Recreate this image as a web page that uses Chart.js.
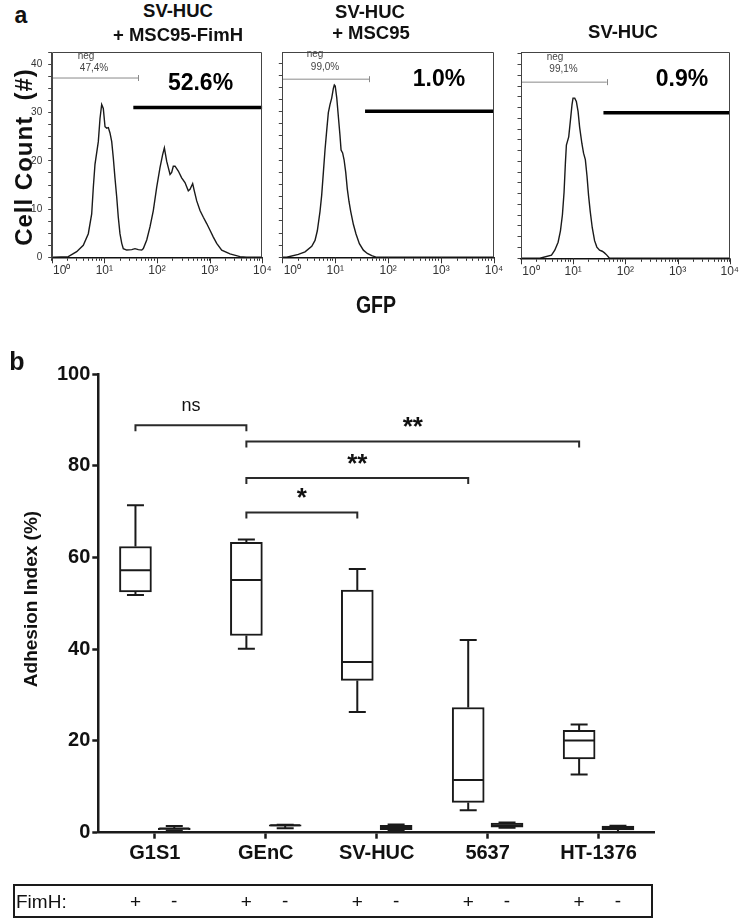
<!DOCTYPE html>
<html><head><meta charset="utf-8">
<script src="https://cdn.jsdelivr.net/npm/chart.js@4.4.1/dist/chart.umd.min.js"></script>
<style>
html,body{margin:0;padding:0;background:#fff;}
body{width:742px;height:921px;position:relative;overflow:hidden;font-family:"Liberation Sans",Arial,sans-serif;color:#111;}
canvas{position:absolute;}
.t{position:absolute;white-space:pre;transform:translate(-50%,-50%);line-height:1;}
.tl{position:absolute;white-space:pre;transform:translate(0,-50%);line-height:1;}
.v{position:absolute;white-space:pre;transform:translate(-50%,-50%) rotate(-90deg);line-height:1;}
</style></head><body>
<canvas id="h0"></canvas><canvas id="h1"></canvas><canvas id="h2"></canvas><canvas id="bx"></canvas>

<div class="t" style="left:21px;top:15px;font:bold 23px 'Liberation Sans'">a</div>
<div class="t" style="left:178px;top:11px;font:bold 18.5px 'Liberation Sans'">SV-HUC</div>
<div class="t" style="left:178px;top:35px;font:bold 18.5px 'Liberation Sans'">+ MSC95-FimH</div>
<div class="t" style="left:370px;top:12px;font:bold 18.5px 'Liberation Sans'">SV-HUC</div>
<div class="t" style="left:371px;top:33px;font:bold 18.5px 'Liberation Sans'">+ MSC95</div>
<div class="t" style="left:623px;top:32px;font:bold 18.5px 'Liberation Sans'">SV-HUC</div>
<div class="v" style="left:24px;top:157px;font:bold 24px 'Liberation Sans';letter-spacing:1px">Cell Count  (#)</div>
<div class="t" style="left:376px;top:305px;font:bold 23px 'Liberation Sans';transform:translate(-50%,-50%) scaleX(0.85)">GFP</div>

<div class="t" style="left:17px;top:361px;font:bold 25px 'Liberation Sans'">b</div>
<div class="v" style="left:31px;top:599px;font:bold 19px 'Liberation Sans'">Adhesion Index (%)</div>
<div id="fimhRow" style="position:absolute;left:13px;top:884px;width:640px;height:34px;border:2.5px solid #1a1a1a;box-sizing:border-box;"></div>
<div class="tl" style="left:16px;top:902px;font:19px 'Liberation Sans'">FimH:</div>

<script>
// ---------- Panel a: flow cytometry histograms (GFP, log scale) ----------
const gfpA   = [1, 1.07, 2.07, 2.98, 3.98, 4.96, 5.75, 6.17, 6.64, 7.68, 8.27, 8.9, 9.55, 10.3, 11.1, 11.9, 12.8, 13.8, 14.8, 15.9, 17.2, 18.4, 19.8, 21.4, 22.9, 26.6, 33.1, 38.2, 44.2, 51.3, 55, 63.8, 73.6, 85.1, 98.6, 114, 128, 138, 153, 164, 177, 190, 204, 220, 254, 294, 340, 393, 424, 476, 511, 568, 656, 759, 879, 1016, 1175, 1361, 1694, 2434, 3770, 5010, 10000];
const countA = [0, 0, 0.14, 1.16, 2.5, 4.9, 9.0, 14.5, 19.3, 24.0, 28.8, 31.7, 30.9, 27.1, 26.8, 26.9, 25.8, 24.0, 20.6, 16.5, 12.4, 8.3, 4.9, 2.9, 1.8, 1.5, 1.6, 1.8, 1.6, 1.5, 1.8, 3.6, 6.3, 9.7, 14.5, 18.6, 21.3, 22.7, 19.9, 18.6, 17.2, 17.6, 18.9, 18.9, 17.9, 16.5, 15.5, 13.8, 14.1, 15.3, 13.8, 11.7, 9.7, 8.3, 7.0, 5.6, 4.2, 2.9, 1.5, 0.7, 0.14, 0, 0];
const gfpB   = [1, 1.21, 2.01, 2.69, 3.6, 4.15, 4.59, 5.16, 5.55, 5.97, 6.41, 6.9, 7.41, 7.98, 8.58, 9.22, 9.62, 10.0, 10.7, 11.5, 12.3, 12.9, 13.8, 14.7, 15.8, 16.9, 18.2, 19.6, 22.0, 24.7, 28.6, 34.0, 40.4, 49.0, 61.0, 94.2, 10000];
const countB = [0, 0, 0.6, 1.13, 2.27, 3.47, 5.47, 9.47, 12.8, 17.5, 22.1, 26.1, 29.8, 31.5, 32.8, 34.8, 35.5, 35.3, 32.8, 28.8, 25.1, 22.1, 21.5, 20.1, 17.5, 14.1, 11.5, 9.47, 6.8, 4.8, 2.8, 1.47, 0.8, 0.33, 0, 0, 0];
const gfpC   = [1, 2.30, 3.84, 4.44, 5.14, 5.70, 6.22, 6.69, 7.09, 7.41, 8.21, 8.83, 9.5, 9.93, 10.7, 11.5, 12.4, 13.3, 14.7, 15.8, 17.1, 18.4, 19.7, 21.2, 23.2, 25.7, 28.4, 32.0, 36.0, 39.8, 44.1, 49.6, 103, 10000];
const countC = [0, 0, 0.74, 1.87, 3.74, 6.37, 10.1, 15.4, 22.1, 26.3, 28.2, 31.9, 35.7, 37.2, 37.2, 36.4, 34.1, 30.4, 26.6, 24.4, 22.9, 19.1, 14.6, 10.9, 7.1, 4.1, 2.6, 1.87, 1.64, 1.26, 0.74, 0, 0, 0];

const negGatePct   = ['47,4%', '99,0%', '99,1%'];
const posGatePct   = ['52.6%', '1.0%', '0.9%'];
const negGateUpper = [44, 44, 44];
const negGateLevel = [37.2, 36.7, 40.9];
const posGateLower = [35.5, 36.6, 38];
const posGateLevel = [31.1, 30.1, 33.8];
const countAxisMax = [42.6, 42.3, 47.9];
const gfpTickLabels = ['10\u2070', '10\u00B9', '10\u00B2', '10\u00B3', '10\u2074'];

// ---------- Panel b: adhesion index box plots ----------
const cellLines = ['G1S1', 'GEnC', 'SV-HUC', '5637', 'HT-1376'];
// [min, q1, median, q3, max]
const fimhPlus  = [[51.8, 52.5, 57.2, 62.4, 71.4], [40.1, 43.0, 55.1, 63.3, 63.9], [26.3, 33.2, 37.2, 52.9, 57.5], [4.9, 6.6, 11.5, 27.3, 42.0], [12.7, 16.1, 20.1, 22.3, 23.6]];
const fimhMinus = [[0.45, 0.65, 0.9, 1.0, 1.45], [0.95, 1.45, 1.6, 1.7, 1.75], [0.5, 0.65, 1.0, 1.6, 1.8], [1.1, 1.2, 1.6, 2.1, 2.25], [0.15, 0.6, 1.0, 1.45, 1.5]];
const bracketFrom  = [0, 1, 1, 1];
const bracketTo    = [1, 4, 3, 2];
const bracketLevel = [88.8, 85.3, 77.3, 69.8];
const bracketLabel = ['ns', '**', '**', '*'];
const fimhSigns = ['+', '-'];

// ---------- layout / style constants ----------
const FONT = 'Liberation Sans';
const histBoxes = [{l:0, t:40, w:280, h:245}, {l:252, t:40, w:256, h:245}, {l:492, t:40, w:250, h:245}];
const histAreas = [{l:51.7, t:49.3, r:262.3, b:257.3}, {l:282.3, t:45.7, r:494, b:257.3}, {l:521, t:45.7, r:731, b:258.3}];
const pctPos = [[200.5, 82], [439, 78], [682, 78]];
const negPos = [[86, 55, 94, 66.7], [315, 52.5, 325, 65.5], [555, 55.8, 563.5, 68]];
const FIRST_LABEL_SHIFT = '\u00A0\u00A0\u00A0\u00A0\u00A0\u00A0';

function addText(txt, x, y, font, color) {
  const d = document.createElement('div');
  d.className = 't';
  d.textContent = txt;
  d.style.left = x + 'px'; d.style.top = y + 'px';
  d.style.font = font; if (color) d.style.color = color;
  document.body.appendChild(d);
}

function isPow10(v) { const l = Math.log10(v); return Math.abs(l - Math.round(l)) < 1e-9; }

function histChart(k, xs, ys) {
  const box = histBoxes[k], area = histAreas[k];
  const cv = document.getElementById('h' + k);
  cv.width = box.w; cv.height = box.h;
  cv.style.left = box.l + 'px'; cv.style.top = box.t + 'px';
  const pts = xs.map((v, i) => ({x: v, y: ys[i]}));
  const frame = {
    id: 'frame' + k,
    afterDatasetsDraw(c) {
      const a = c.chartArea, ctx = c.ctx;
      ctx.save();
      ctx.strokeStyle = '#444'; ctx.lineWidth = 1;
      ctx.beginPath();
      ctx.moveTo(Math.round(a.left) + 0.5, a.bottom);
      ctx.lineTo(Math.round(a.left) + 0.5, Math.round(a.top) + 0.5);
      ctx.lineTo(Math.round(a.right) - 0.5, Math.round(a.top) + 0.5);
      ctx.lineTo(Math.round(a.right) - 0.5, a.bottom);
      ctx.stroke();
      // longer tick marks at the decades
      ctx.strokeStyle = '#333';
      c.scales.x.ticks.forEach(t => {
        if (!isPow10(t.value)) return;
        const px = Math.round(c.scales.x.getPixelForValue(t.value)) + 0.5;
        ctx.beginPath(); ctx.moveTo(px, a.bottom); ctx.lineTo(px, a.bottom + 6); ctx.stroke();
      });
      const gx = c.scales.x.getPixelForValue(negGateUpper[k]);
      const gy = c.scales.y.getPixelForValue(negGateLevel[k]);
      ctx.strokeStyle = '#8a8a8a';
      ctx.beginPath(); ctx.moveTo(Math.round(gx) + 0.5, gy - 3); ctx.lineTo(Math.round(gx) + 0.5, gy + 3); ctx.stroke();
      ctx.restore();
    }
  };
  return new Chart(cv, {
    type: 'scatter',
    data: {datasets: [
      {data: [{x: 1, y: negGateLevel[k]}, {x: negGateUpper[k], y: negGateLevel[k]}], showLine: true, borderColor: '#8a8a8a', borderWidth: 1, pointRadius: 0},
      {data: [{x: posGateLower[k], y: posGateLevel[k]}, {x: 10000, y: posGateLevel[k]}], showLine: true, borderColor: '#000', borderWidth: 3.5, pointRadius: 0},
      {data: pts, showLine: true, borderColor: '#1a1a1a', borderWidth: 1.4, pointRadius: 0, tension: 0}
    ]},
    options: {
      responsive: false, animation: false, events: [],
      layout: {padding: {left: 0, top: area.t - box.t, right: box.l + box.w - area.r, bottom: 0}},
      plugins: {legend: {display: false}, tooltip: {enabled: false}},
      scales: {
        x: {
          type: 'logarithmic', min: 1, max: 10000,
          afterBuildTicks(s) {
            s.ticks = s.ticks.filter(t => {
              const m = t.value / Math.pow(10, Math.floor(Math.log10(t.value) + 1e-9));
              return Math.abs(m - Math.round(m)) < 1e-6;
            });
          },
          afterFit(s) { s.height = box.t + box.h - area.b; },
          ticks: {autoSkip: false, maxRotation: 0, minRotation: 0, padding: 3, color: '#333',
            font: {family: FONT, size: 12},
            callback(v) {
              if (!isPow10(v)) return '';
              const e = Math.round(Math.log10(v));
              return e === 0 ? FIRST_LABEL_SHIFT + gfpTickLabels[0] : gfpTickLabels[e];
            }},
          grid: {display: true, drawOnChartArea: false, drawTicks: true, tickLength: 3.5, color: '#333', lineWidth: 1},
          border: {display: true, color: '#111', width: 1.5}
        },
        y: {
          type: 'linear', min: 0, max: countAxisMax[k],
          afterFit(s) { s.width = area.l - box.l; },
          ticks: {stepSize: 2.5, autoSkip: false, includeBounds: false, padding: 6, color: '#333',
            font: {family: FONT, size: 10},
            callback(v) { return (k === 0 && Math.abs(v % 10) < 1e-9) ? String(v) : ''; }},
          grid: {display: true, drawOnChartArea: false, drawTicks: true, tickLength: 3.5, color: '#444', lineWidth: 1},
          border: {display: true, color: '#444', width: 1}
        }
      }
    },
    plugins: [frame]
  });
}

histChart(0, gfpA, countA);
histChart(1, gfpB, countB);
histChart(2, gfpC, countC);
for (let k = 0; k < 3; k++) {
  addText(posGatePct[k], pctPos[k][0], pctPos[k][1], "bold 23px 'Liberation Sans'", '#000');
  addText('neg', negPos[k][0], negPos[k][1], "10px 'Liberation Sans'", '#444');
  addText(negGatePct[k], negPos[k][2], negPos[k][3], "10px 'Liberation Sans'", '#444');
}

// ---------- Panel b chart ----------
const PAIR = 0.175, BOX_W = 32, CAP_W = 17;
const bBox = {l: 0, t: 340, w: 742, h: 545};
const bArea = {l: 98.3, t: 374, r: 654, b: 832.7};
const ink = '#1a1a1a';

const boxPlugin = {
  id: 'boxes',
  afterDatasetsDraw(c) {
    const ctx = c.ctx, x = c.scales.x, y = c.scales.y;
    ctx.save();
    ctx.strokeStyle = ink; ctx.lineWidth = 2; ctx.lineCap = 'butt';
    [[fimhPlus, -PAIR], [fimhMinus, PAIR]].forEach(([stats, off]) => {
      stats.forEach((s, i) => {
        const cx = x.getPixelForValue(i + off);
        const [mn, q1, md, q3, mx] = s.map(v => y.getPixelForValue(v));
        ctx.beginPath();
        ctx.moveTo(cx, q3); ctx.lineTo(cx, mx);
        ctx.moveTo(cx, q1); ctx.lineTo(cx, mn);
        ctx.moveTo(cx - CAP_W / 2, mx); ctx.lineTo(cx + CAP_W / 2, mx);
        ctx.moveTo(cx - CAP_W / 2, mn); ctx.lineTo(cx + CAP_W / 2, mn);
        ctx.moveTo(cx - BOX_W / 2 + 1, md); ctx.lineTo(cx + BOX_W / 2 - 1, md);
        ctx.stroke();
      });
    });
    // significance brackets
    ctx.strokeStyle = '#2a2a2a'; ctx.lineWidth = 2;
    bracketFrom.forEach((f, j) => {
      const x1 = x.getPixelForValue(f - PAIR), x2 = x.getPixelForValue(bracketTo[j] - PAIR);
      const yy = y.getPixelForValue(bracketLevel[j]);
      ctx.beginPath();
      ctx.moveTo(x1, yy + 6); ctx.lineTo(x1, yy); ctx.lineTo(x2, yy); ctx.lineTo(x2, yy + 6);
      ctx.stroke();
      const lbl = bracketLabel[j];
      ctx.font = lbl === 'ns' ? `18px '${FONT}'` : `bold 26px '${FONT}'`;
      ctx.fillStyle = '#111';
      ctx.textAlign = 'center'; ctx.textBaseline = 'alphabetic';
      const m = ctx.measureText(lbl);
      const cy = yy - 19.5;
      ctx.fillText(lbl, (x1 + x2) / 2, cy + (m.actualBoundingBoxAscent - m.actualBoundingBoxDescent) / 2);
    });
    ctx.restore();
  }
};

const bcv = document.getElementById('bx');
bcv.width = bBox.w; bcv.height = bBox.h;
bcv.style.left = bBox.l + 'px'; bcv.style.top = bBox.t + 'px';
const barStyle = {backgroundColor: '#fff', borderColor: ink, borderWidth: 2, borderSkipped: false, barThickness: BOX_W, grouped: false};
const chartB = new Chart(bcv, {
  type: 'bar',
  data: {datasets: [
    Object.assign({label: 'FimH +', data: fimhPlus.map((s, i) => ({x: i - PAIR, y: [s[1], s[3]]}))}, barStyle),
    Object.assign({label: 'FimH -', data: fimhMinus.map((s, i) => ({x: i + PAIR, y: [s[1], s[3]]}))}, barStyle)
  ]},
  options: {
    responsive: false, animation: false, events: [],
    layout: {padding: {left: 0, top: bArea.t - bBox.t, right: bBox.l + bBox.w - bArea.r, bottom: 0}},
    plugins: {legend: {display: false}, tooltip: {enabled: false}},
    scales: {
      x: {
        type: 'linear', min: -0.51, max: 4.5, offset: false,
        afterFit(s) { s.height = bBox.t + bBox.h - bArea.b; },
        ticks: {stepSize: 1, includeBounds: false, autoSkip: false, maxRotation: 0, padding: 3, color: '#111',
          font: {family: FONT, size: 20, weight: 'bold'},
          callback(v) { return Number.isInteger(v) ? (cellLines[v] || '') : ''; }},
        grid: {display: true, offset: false, drawOnChartArea: false, drawTicks: true, tickLength: 6, tickWidth: 2.5, color: ink},
        border: {display: true, color: ink, width: 2.5}
      },
      y: {
        type: 'linear', min: 0, max: 100,
        afterFit(s) { s.width = bArea.l - bBox.l; },
        ticks: {stepSize: 20, autoSkip: false, padding: 2, color: '#111',
          font: {family: FONT, size: 20, weight: 'bold'}},
        grid: {display: true, drawOnChartArea: false, drawTicks: true, tickLength: 6, tickWidth: 2.5, color: ink},
        border: {display: true, color: ink, width: 2.5}
      }
    }
  },
  plugins: [boxPlugin]
});

// FimH +/- row, aligned with the boxes through the chart's x scale
const xsB = chartB.scales.x;
cellLines.forEach((_, i) => {
  addText(fimhSigns[0], bBox.l + xsB.getPixelForValue(i - PAIR), 902, "19px 'Liberation Sans'", '#111');
  addText(fimhSigns[1], bBox.l + xsB.getPixelForValue(i + PAIR), 901, "19px 'Liberation Sans'", '#111');
});
</script>
</body></html>
